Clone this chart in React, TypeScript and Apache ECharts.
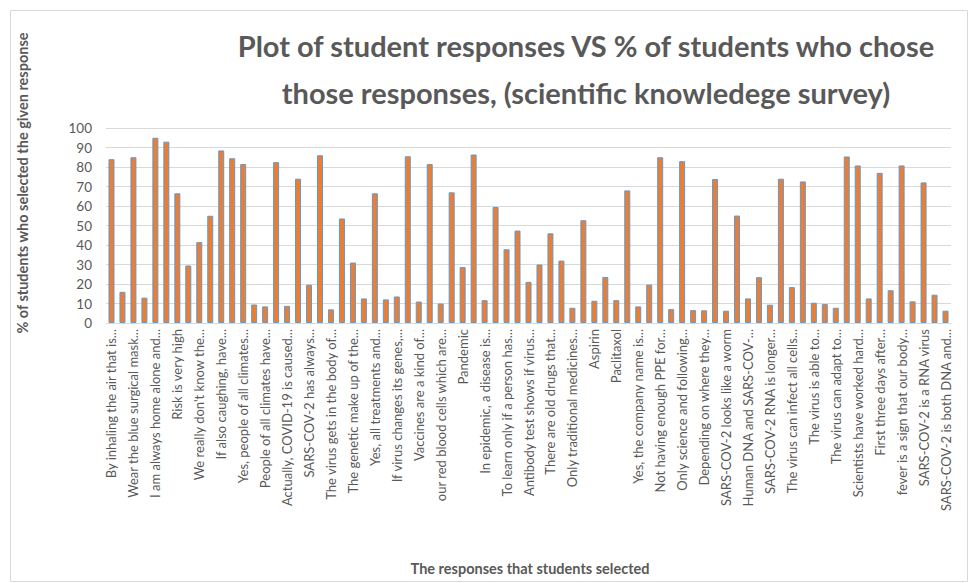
import React, { useEffect, useRef } from "react";
import * as echarts from "echarts";

const titleLines = [
  "Plot of student responses VS % of students who chose",
  "those responses, (scientific knowledege survey)",
];
const yAxisTitle = "% of students who selected the given response";
const xAxisTitle = "The responses that students selected";

// Visible (labelled) responses, shown at every other category
const shownLabels = [
  "By inhaling the air that is...",
  "Wear the blue surgical mask...",
  "I am always home alone and...",
  "Risk is very high",
  "We really don't know the...",
  "If also caughing, have...",
  "Yes, people of all climates...",
  "People of all climates have...",
  "Actually, COVID-19 is caused...",
  "SARS-COV-2 has always...",
  "The virus gets in the body of...",
  "The genetic make up of the...",
  "Yes, all treatments and...",
  "If virus changes its genes,...",
  "Vaccines are a kind of...",
  "our red blood cells which are...",
  "Pandemic",
  "In epidemic, a disease is...",
  "To learn only if a person has...",
  "Antibody test shows if virus...",
  "There are old drugs that...",
  "Only traditional medicines...",
  "Aspirin",
  "Paclitaxol",
  "Yes, the company name is...",
  "Not having enough PPE for...",
  "Only science and following...",
  "Depending on where they...",
  "SARS-COV-2 looks like a worm",
  "Human DNA and SARS-COV-...",
  "SARS-COV-2 RNA is longer...",
  "The virus can infect all cells...",
  "The virus is able to...",
  "The virus can adapt to...",
  "Scientists have worked hard...",
  "First three days after...",
  "fever is a sign that our body...",
  "SARS-COV-2 is a RNA virus",
  "SARS-COV-2 is both DNA and...",
];

// % of students per response (77 responses)
const percentages = [
  84, 16, 85, 13, 95, 93, 66.5, 29.5, 41.5, 55,
  88.5, 84.5, 81.5, 9.5, 8.5, 82.5, 8.8, 74, 19.6, 86,
  7, 53.6, 31, 12.6, 66.5, 12.1, 13.6, 85.5, 11, 81.5,
  10, 67, 28.7, 86.4, 11.7, 59.5, 37.8, 47.4, 21.1, 30,
  46, 32, 7.8, 52.7, 11.4, 23.6, 11.7, 68, 8.5, 19.7,
  85, 7.1, 83, 6.6, 6.5, 73.8, 6.3, 55.1, 12.6, 23.5,
  9.4, 74, 18.4, 72.6, 10.4, 9.7, 7.8, 85.4, 80.8, 12.6,
  77, 16.8, 80.8, 11.1, 72.1, 14.5, 6.3,
];

const yTicks = [0, 10, 20, 30, 40, 50, 60, 70, 80, 90, 100];

const categories = percentages.map((_, i) =>
  i % 2 === 0 ? shownLabels[i / 2] : `Response ${i + 1}`
);

export default function App() {
  const ref = useRef<HTMLDivElement>(null);
  useEffect(() => {
    if (!ref.current) return;
    const chart = echarts.init(ref.current, undefined, { renderer: "svg" });
    const grey = "#595959";
    chart.setOption({
      animation: false,
      backgroundColor: "#ffffff",
      grid: { left: 106, right: 20, top: 128, bottom: 260 },
      xAxis: {
        type: "category",
        data: categories,
        axisLine: { lineStyle: { color: "#d9d9d9" } },
        axisTick: { show: false },
        axisLabel: {
          interval: 1,
          rotate: 90,
          color: grey,
          fontFamily: "Lato",
          fontSize: 13,
          margin: 6,
        },
      },
      yAxis: {
        type: "value",
        min: yTicks[0],
        max: yTicks[yTicks.length - 1],
        interval: 10,
        axisLine: { show: false },
        axisTick: { show: false },
        splitLine: { lineStyle: { color: "#d9d9d9" } },
        axisLabel: { color: grey, fontFamily: "Lato", fontSize: 13.5, margin: 14 },
      },
      series: [
        {
          type: "bar",
          data: percentages,
          barWidth: 6,
          itemStyle: { color: "#ED7D31", borderColor: "#5B9BD5", borderWidth: 1 },
        },
      ],
      graphic: [
        {
          type: "rect",
          shape: { x: 10.5, y: 10.5, width: 957, height: 571 },
          style: { fill: "none", stroke: "#d9d9d9", lineWidth: 1 },
          silent: true,
        },
        {
          type: "text",
          x: 586,
          y: 45,
          style: {
            text: titleLines[0],
            fill: grey,
            font: "bold 29px Lato",
            textAlign: "center",
            textVerticalAlign: "middle",
          },
        },
        {
          type: "text",
          x: 586,
          y: 92,
          style: {
            text: titleLines[1],
            fill: grey,
            font: "bold 29px Lato",
            textAlign: "center",
            textVerticalAlign: "middle",
          },
        },
        {
          type: "text",
          x: 22,
          y: 183,
          rotation: Math.PI / 2,
          style: {
            text: yAxisTitle,
            fill: grey,
            font: "bold 14.5px Lato",
            textAlign: "center",
            textVerticalAlign: "middle",
          },
        },
        {
          type: "text",
          x: 530,
          y: 568,
          style: {
            text: xAxisTitle,
            fill: grey,
            font: "bold 14.5px Lato",
            textAlign: "center",
            textVerticalAlign: "middle",
          },
        },
      ],
    });
    return () => chart.dispose();
  }, []);
  return (
    <div
      ref={ref}
      style={{ position: "fixed", left: 0, top: 0, width: 971, height: 583 }}
    />
  );
}
